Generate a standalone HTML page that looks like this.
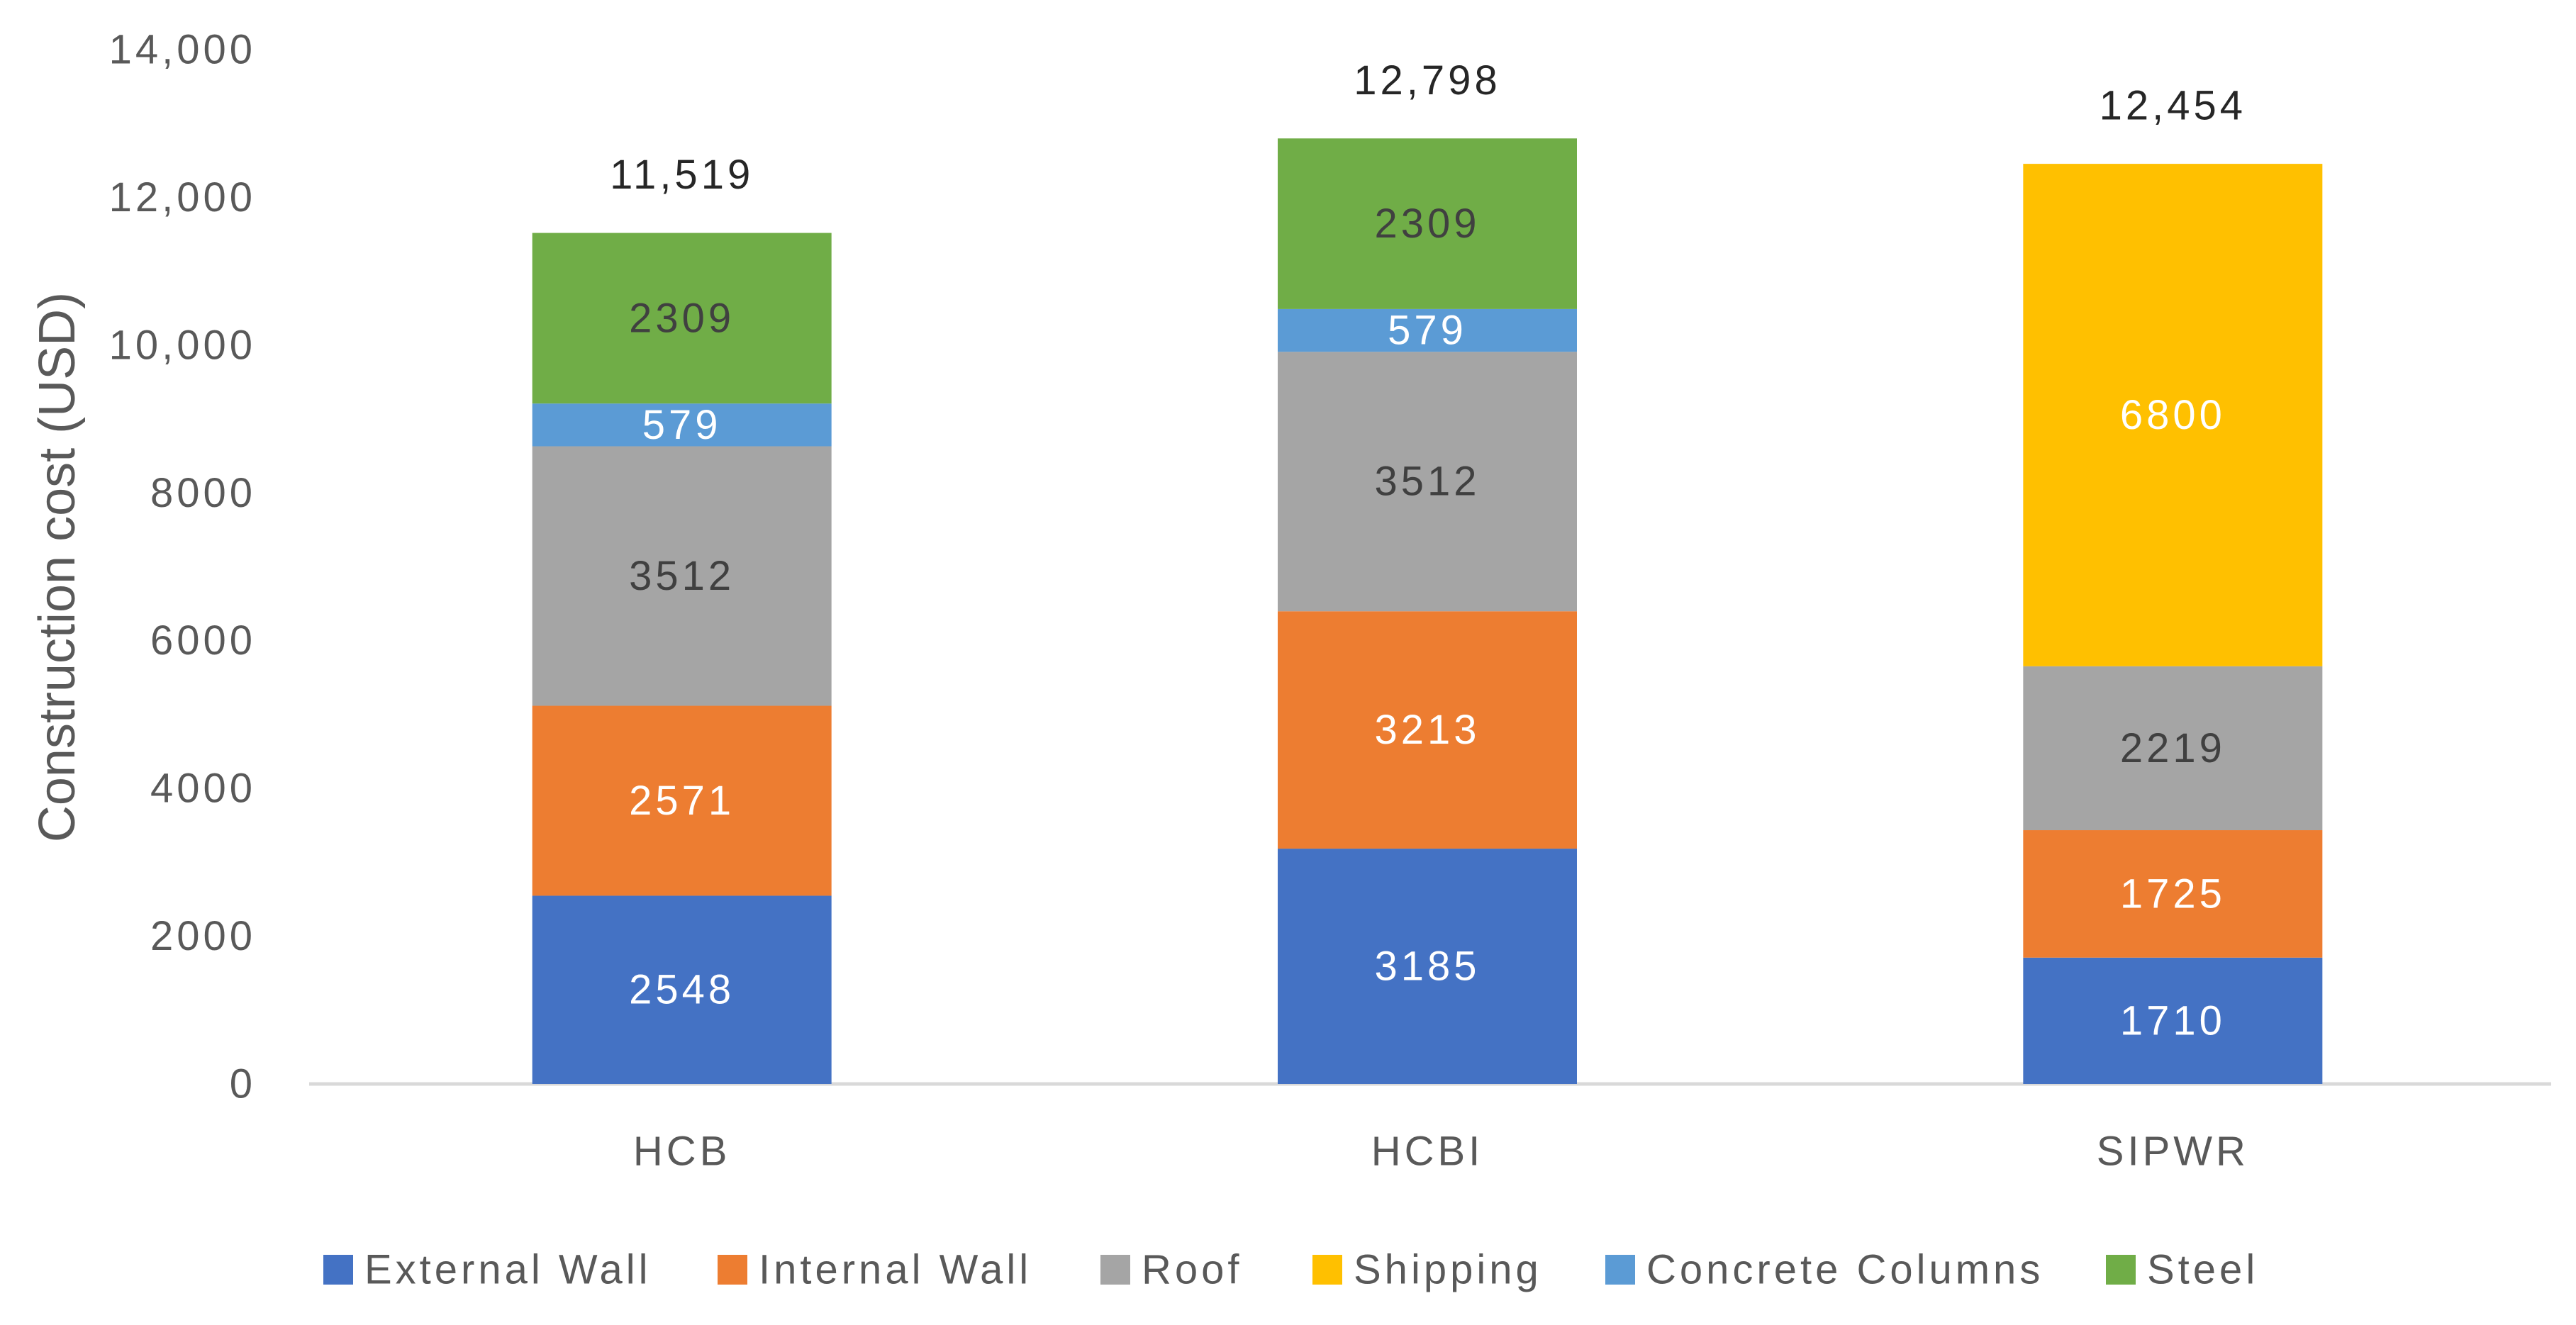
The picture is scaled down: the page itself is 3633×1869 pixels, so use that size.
<!DOCTYPE html>
<html><head><meta charset="utf-8"><style>
html,body{margin:0;padding:0;background:#fff;}
svg{display:block;font-family:"Liberation Sans",sans-serif;}
</style></head><body>
<svg id="chart" width="3633" height="1869" viewBox="0 0 3633 1869">
<g id="yaxis"></g>
<line x1="436" y1="1529" x2="3598" y2="1529" stroke="#d9d9d9" stroke-width="5"/>
<g id="bars"></g>
<g id="xaxis"></g>
<text x="81" y="800" transform="rotate(-90 81 800)" text-anchor="middle" dominant-baseline="central" font-size="72" fill="#595959">Construction cost (USD)</text>
<g id="legend"></g>
</svg>
<script>
const categories = ["HCB", "HCBI", "SIPWR"];
const seriesNames = ["External Wall", "Internal Wall", "Roof", "Shipping", "Concrete Columns", "Steel"];
const externalWall = [2548, 3185, 1710];
const internalWall = [2571, 3213, 1725];
const roof = [3512, 3512, 2219];
const shipping = [0, 0, 6800];
const concreteColumns = [579, 579, 0];
const steel = [2309, 2309, 0];
const totals = ["11,519", "12,798", "12,454"];
const yTicks = [0, 2000, 4000, 6000, 8000, 10000, 12000, 14000];
const yTickLabels = ["0", "2000", "4000", "6000", "8000", "10,000", "12,000", "14,000"];

const seriesData = [externalWall, internalWall, roof, shipping, concreteColumns, steel];
const colors = ["#4472C4", "#ED7D31", "#A5A5A5", "#FFC000", "#5B9BD5", "#70AD47"];
const labelColors = ["#fff", "#fff", "#404040", "#fff", "#fff", "#404040"];
const NS = "http://www.w3.org/2000/svg";
const y0 = 1529, yTop = 70, yMax = 14000;
function y(v){ return y0 - v * (y0 - yTop) / yMax; }
const xStart = 436, xEnd = 3590, barW = 422;
function xc(i){ const band = (xEnd - xStart) / categories.length; return xStart + band * (i + 0.5); }
function mk(tag, attrs, parent){ const e = document.createElementNS(NS, tag); for (const k in attrs) e.setAttribute(k, attrs[k]); parent.appendChild(e); return e; }

const ya = document.getElementById("yaxis");
yTicks.forEach((t, i) => {
  const e = mk("text", {x: 361, y: y(t), "text-anchor": "end", "dominant-baseline": "central", "font-size": 58, fill: "#595959", "letter-spacing": 5}, ya);
  
  
  e.textContent = yTickLabels[i];
});

const bars = document.getElementById("bars");
categories.forEach((c, i) => {
  let base = 0;
  seriesData.forEach((s, k) => {
    const v = s[i];
    if (v <= 0) return;
    const r = mk("rect", {x: xc(i) - barW / 2, y: y(base + v), width: barW, height: y(base) - y(base + v), fill: colors[k]}, bars);
    
    
    const t = mk("text", {x: xc(i), y: (y(base) + y(base + v)) / 2, "text-anchor": "middle", "dominant-baseline": "central", "font-size": 58, fill: labelColors[k], "letter-spacing": 5}, bars);
    
    
    t.textContent = v;
    base += v;
  });
  const tt = mk("text", {x: xc(i), y: y(base) - 82, "text-anchor": "middle", "dominant-baseline": "central", "font-size": 58, fill: "#262626", "letter-spacing": 5}, bars);
  
  
  tt.textContent = totals[i];
  const xl = mk("text", {x: xc(i), y: 1624, "text-anchor": "middle", "dominant-baseline": "central", "font-size": 58, fill: "#595959", "letter-spacing": 5}, document.getElementById("xaxis"));
  
  
  xl.textContent = c;
});

const lg = document.getElementById("legend");
const legX = [456, 1012, 1552, 1851, 2264, 2970];
seriesNames.forEach((n, k) => {
  const g = mk("g", {}, lg);
  
  
  mk("rect", {x: legX[k], y: 1770, width: 42, height: 42, fill: colors[k]}, g);
  const t = mk("text", {x: legX[k] + 58, y: 1791, "dominant-baseline": "central", "font-size": 58, fill: "#595959", "letter-spacing": 5}, g);
  t.textContent = n;
});
</script>
</body></html>
